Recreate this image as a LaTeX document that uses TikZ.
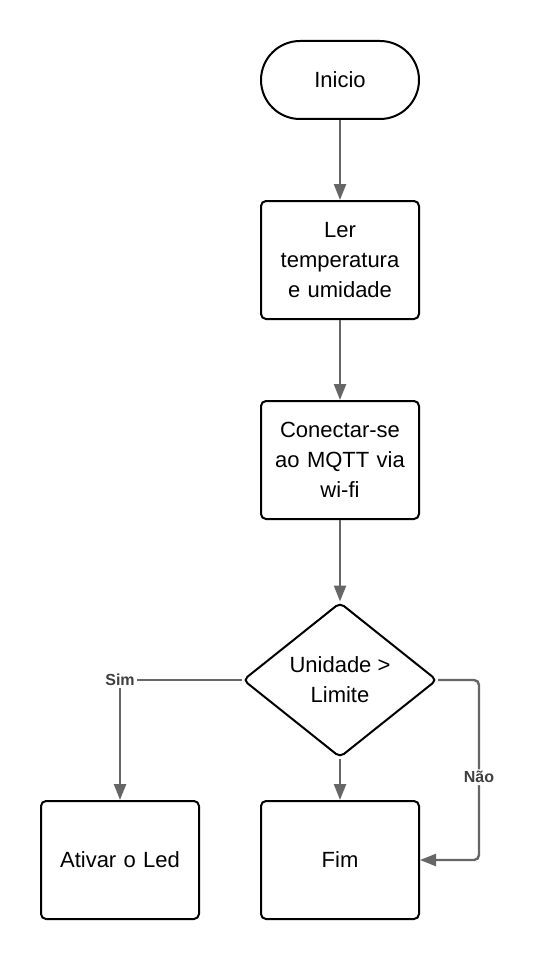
\documentclass[tikz,border=0pt]{standalone}
\usepackage{fontspec}
\setmainfont{Liberation Sans}
\usetikzlibrary{%
  arrows.meta,%
  shapes.geometric,%
  positioning%
}
\definecolor{linegray}{HTML}{666666}
\definecolor{labelgray}{HTML}{404040}
\tikzset{
  box/.style={draw,line width=2pt,rounded corners=5pt,
    minimum width=158pt,minimum height=118pt,text width=150pt,
    align=center,font=\fontsize{22}{30}\selectfont},
  terminal/.style={box,rounded corners=39pt,minimum height=78pt},
  decision/.style={draw,diamond,line width=2pt,rounded corners=5pt,
    minimum width=194pt,minimum height=155pt,inner sep=0pt,
    align=center,font=\fontsize{22}{30}\selectfont},
  flow/.style={draw=linegray,line width=2.4pt,
    -{Triangle[length=16pt,width=12pt]}},
  lbl/.style={fill=white,text=labelgray,inner sep=2pt,
    font=\fontsize{16}{18}\bfseries}
}
\begin{document}
\begin{tikzpicture}[x=1pt,y=-1pt]
      \useasboundingbox (0,0) rectangle (536,960);
      \node[terminal] (inicio) at (340,80) {Inicio};
      \node[box] (ler) at (340,260) {Ler\\temperatura\\e umidade};
      \node[box] (mqtt) at (340,460) {Conectar-se\\ao MQTT via\\wi-fi};
      \node[decision] (limite) at (340,680) {Unidade >\\Limite};
      \node[box] (led) at (120,860) {Ativar o Led};
      \node[box] (fim) at (340,860) {Fim};
      \coordinate (naoturn) at (479,680);
      % ligacoes
      \draw[flow] (inicio) -- (ler);
      \draw[flow] (ler) -- (mqtt);
      \draw[flow] (mqtt) -- (limite);
      \draw[flow] (limite) -- (fim);
      \draw[flow] (limite.west) -| node[lbl,pos=0.5] {Sim} (led);
      \draw[flow,rounded corners=5pt] (limite.east) -- (naoturn)
      |- node[lbl,pos=0.27] {Não} (fim.east);
    \end{tikzpicture}
\end{document}
